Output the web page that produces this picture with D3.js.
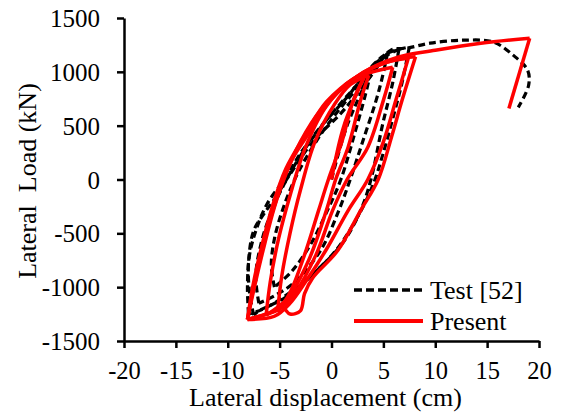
<!DOCTYPE html>
<html lang="en">
<head>
<meta charset="UTF-8">
<title>Lateral load vs displacement</title>
<script src="https://d3js.org/d3.v7.min.js"></script>
<style>
  body { margin: 0; background: #fff; }
  svg text { font-family: "Liberation Serif", "Times New Roman", serif; fill: #000; }
</style>
</head>
<body>
<div id="chart"></div>
<script>
// axis ticks
var xTicks = [-20, -15, -10, -5, 0, 5, 10, 15, 20];
var yTicks = [-1500, -1000, -500, 0, 500, 1000, 1500];

// Test [52] - branches of the measured hysteresis (displacement cm, load kN)
var testLoops = [
  [[0, 0], [1.5, 500], [3.8, 1000]],
  [[3.8, 1000], [3.3, 800], [2.3, 450], [0.9, 0], [-0.4, -289], [-2, -600], [-3.8, -850], [-5.5, -1000]],
  [[-5.5, -1000], [-5.8, -800], [-5.5, -550], [-4.6, -250], [-3.3, 50], [-1.5, 350], [0.5, 620], [2.5, 850], [5.4, 1173]],
  [[5.4, 1173], [4.9, 950], [4.3, 735], [3.0, 350], [1.8, 0], [0.7, -289], [-1, -650], [-3.5, -950], [-5.5, -1080], [-7, -1150]],
  [[-7, -1150], [-7.3, -900], [-6.8, -600], [-5.8, -300], [-4.6, -50], [-2.8, 250], [-0.5, 550], [2, 830], [4.5, 1100], [6.5, 1210]],
  [[6.5, 1210], [5.9, 900], [4.9, 500], [3.8, 0], [2.8, -289], [1, -600], [-1.5, -850], [-4, -1050], [-6.5, -1200], [-8, -1250]],
  [[-8, -1250], [-8.1, -1000], [-7.9, -700], [-7.2, -450], [-6.2, -225], [-4.4, 20], [-3, 242], [-1.1, 484], [1.5, 764], [3.8, 1043], [5.4, 1173], [7.5, 1230]],
  [[7.5, 1230], [6.8, 900], [6, 600], [5, 250], [4, -50], [2.5, -350], [0.5, -650], [-2, -900], [-4.5, -1100], [-7, -1220], [-7.5, -1260]],
  [[-7.5, -1260], [-7.9, -1050], [-8, -780], [-7.5, -475], [-6.5, -317], [-5.4, -168], [-4.2, 19], [-1.7, 363], [0.9, 614], [2.5, 800], [4, 987], [5.7, 1200], [7.3, 1220], [9.5, 1266], [12.7, 1294], [15.6, 1276], [17.5, 1155], [18.9, 1015], [19, 875], [18, 670]]
];

// Present - branches of the computed hysteresis
var presentLoops = [
  [[0, 0], [1.2, 500], [3.1, 940]],
  [[3.1, 940], [2.1, 735], [1.0, 350], [-0.3, 0], [-1.25, -289], [-2.6, -700], [-4, -1050], [-5.2, -1230]],
  [[-5.2, -1230], [-4.8, -900], [-4.0, -500], [-3.0, -100], [-1.6, 350], [0.3, 700], [1.8, 880], [3.6, 968]],
  [[3.6, 968], [2.8, 735], [1.6, 300], [0.4, 0], [-0.5, -289], [-2.2, -750], [-4.2, -1100], [-6.3, -1260]],
  [[-6.3, -1260], [-5.9, -950], [-5.1, -550], [-4.0, -150], [-2.5, 300], [-0.5, 680], [2, 930], [5.9, 1043]],
  [[5.9, 1043], [5.0, 735], [3.5, 300], [1.5, 0], [0.1, -289], [-1.5, -700], [-3.5, -1050], [-5, -1200], [-8.1, -1300]],
  [[-8.1, -1300], [-7.4, -950], [-6.3, -500], [-4.8, -50], [-3.0, 350], [-1, 650], [2.5, 960], [5, 1080], [7.4, 1126]],
  [[7.4, 1126], [6.2, 735], [5, 350], [3.5, 0], [1.6, -289], [-0.5, -650], [-2.5, -950], [-4, -1150], [-5.5, -1270], [-8.1, -1300]],
  [[-8.1, -1300], [-7.6, -1000], [-6.8, -650], [-5.7, -250], [-4.4, 100], [-2.5, 420], [-0.5, 720], [2.5, 960], [6, 1110], [8.1, 1140]],
  [[8.1, 1140], [6.8, 735], [5.8, 400], [4.5, 0], [2.8, -289], [0.6, -660], [-1.8, -912], [-2.6, -1060], [-3, -1220], [-4, -1250], [-4.7, -1190], [-5.4, -1220], [-8.1, -1300]],
  [[-8.1, -1300], [-7.5, -1030], [-6.6, -660], [-5.4, -225], [-4.0, 150], [-2.0, 456], [-0.1, 735], [3.1, 996], [6.4, 1136], [10, 1200], [14.4, 1266], [19.1, 1313]],
  [[19.1, 1313], [17.1, 660]]
];

var seriesNames = ["Test [52]", "Present"];

var width = 562, height = 418;
var svg = d3.select("#chart").append("svg")
  .attr("width", width)
  .attr("height", height);

var x = d3.scaleLinear().domain([-20, 20]).range([124, 539]);
var y = d3.scaleLinear().domain([-1500, 1500]).range([341, 18]);

var line = d3.line()
  .x(function(d) { return x(d[0]); })
  .y(function(d) { return y(d[1]); })
  .curve(d3.curveCatmullRom.alpha(0.5));

// plain hyphen minus, no thousands separator
var plain = function(d) { return String(d); };

// curves
svg.append("g").selectAll("path")
  .data(testLoops)
  .enter().append("path")
  .attr("d", line)
  .attr("fill", "none")
  .attr("stroke", "#000")
  .attr("stroke-width", 3.2)
  .attr("stroke-dasharray", "7,4");

svg.append("g").selectAll("path")
  .data(presentLoops)
  .enter().append("path")
  .attr("d", line)
  .attr("fill", "none")
  .attr("stroke", "#ff0000")
  .attr("stroke-width", 3.5)
  .attr("stroke-linejoin", "round");

// axes
var xAxis = svg.append("g")
  .attr("transform", "translate(0," + y(-1500) + ")")
  .call(d3.axisBottom(x).tickValues(xTicks).tickFormat(plain).tickSize(7).tickSizeOuter(0));
xAxis.selectAll("text")
  .attr("y", 38).attr("dy", 0)
  .style("font-size", "24.5px");

var yAxis = svg.append("g")
  .attr("transform", "translate(" + x(-20) + ",0)")
  .call(d3.axisLeft(y).tickValues(yTicks).tickFormat(plain).tickSize(7).tickPadding(17).tickSizeOuter(0));
yAxis.selectAll("text")
  .attr("dy", "0.34em")
  .style("font-size", "25px");

svg.selectAll(".domain").attr("stroke", "#000").attr("stroke-width", 2.5);
svg.selectAll(".tick line").attr("stroke", "#000").attr("stroke-width", 2.5);
svg.selectAll(".tick text").attr("fill", "#000").style("font-family", "'Liberation Serif', 'Times New Roman', serif");

// axis titles
svg.append("text")
  .attr("x", 325.5)
  .attr("y", 406)
  .attr("text-anchor", "middle")
  .style("font-size", "26px")
  .text("Lateral displacement (cm)");

svg.append("text")
  .attr("transform", "translate(36,181) rotate(-90)")
  .attr("text-anchor", "middle")
  .style("font-size", "26px")
  .style("white-space", "pre")
  .text("Lateral  Load (kN)");

// legend
var legend = svg.append("g");
legend.append("line")
  .attr("x1", 354).attr("x2", 423).attr("y1", 290).attr("y2", 290)
  .attr("stroke", "#000").attr("stroke-width", 3.5).attr("stroke-dasharray", "8,4");
legend.append("text")
  .attr("x", 430).attr("y", 299)
  .style("font-size", "26px")
  .text(seriesNames[0]);
legend.append("line")
  .attr("x1", 354).attr("x2", 423).attr("y1", 321).attr("y2", 321)
  .attr("stroke", "#ff0000").attr("stroke-width", 4);
legend.append("text")
  .attr("x", 430).attr("y", 330)
  .style("font-size", "26px")
  .text(seriesNames[1]);
</script>
</body>
</html>
